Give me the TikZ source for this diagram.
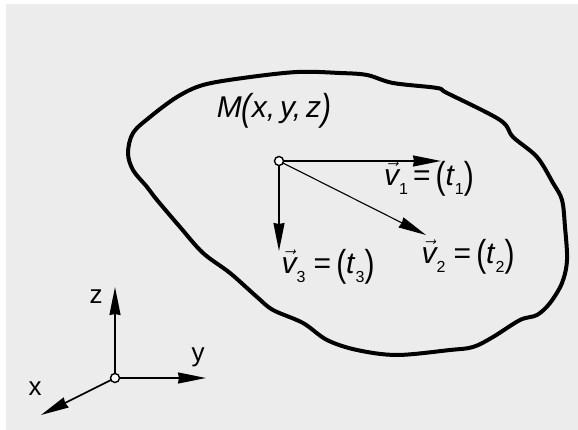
\documentclass[tikz,border=0pt]{standalone}
\usepackage{fontspec}
\setmainfont{Liberation Sans}
\usepackage{graphicx}
\usetikzlibrary{arrows.meta}
\definecolor{bg}{HTML}{ECECEC}
\newcommand\bigp[1]{\raisebox{-0.12em}{\scalebox{1}[1.25]{#1}}}
\newcommand\vv{\ensuremath{\vec{\mbox{\itshape v}}}}
\newcommand\sbs[1]{\raisebox{-0.3em}{\fontsize{16}{16}\selectfont #1}}
\begin{document}
\begin{tikzpicture}[x=1pt,y=-1pt,
  lab/.style={font=\fontsize{30}{30}\selectfont, inner sep=0pt},
  axlab/.style={font=\fontsize{26}{26}\selectfont, inner sep=0pt},
  vec/.style={line width=1.6pt, -{Stealth[length=28pt,width=11pt,inset=1pt]}},
  pt/.style={circle, draw=black, fill=white, line width=1.4pt, minimum size=9pt, inner sep=0pt},
  blob/.style={line width=4pt, line join=round}]
\useasboundingbox (0,0) rectangle (578,430);
\fill[bg] (6,4) rectangle (578,430);
% body outline
\draw[blob] plot[smooth cycle, tension=0.55] coordinates {
 (297,72) (340,73) (367,75) (393,83) (437,88) (447,93) (500,120) (513,137)
 (537,157) (553,183) (562,200) (565,227) (567,260) (562,283) (550,303)
 (537,315) (520,320) (493,337) (473,347) (450,350) (397,355) (357,350)
 (327,340) (303,323) (273,310) (257,297) (230,273) (203,253) (180,227)
 (157,200) (147,187) (133,170) (128,153) (133,133) (150,117) (177,97)
 (203,85) (243,78)};
% point M and vectors
\coordinate (t1) at (441,161);
\coordinate (t2) at (426,235);
\coordinate (t3) at (279,251);
\draw[vec] (279,161) -- (t1);
\draw[vec, line width=1.1pt] (279,161) -- (t2);
\draw[vec] (279,161) -- (t3);
\node[pt] (M) at (279,161) {};
\node[lab] (lM) at (274,111) {\itshape M\bigp{(}x,\,y,\,z\bigp{)}};
\node[lab] (l1) at (429,179) {\vv\sbs{1}\,=\,\bigp{(}\textit{t}\sbs{1}\bigp{)}};
\node[lab] (l2) at (468,257) {\vv\sbs{2}\;=\,\bigp{(}\textit{t}\sbs{2}\bigp{)}};
\node[lab] (l3) at (328,267) {\vv\sbs{3}\;=\,\bigp{(}\textit{t}\sbs{3}\bigp{)}};
% axes
\coordinate (az) at (115,287);
\coordinate (ay) at (206,378);
\coordinate (ax) at (41,415);
\draw[vec] (115,378) -- (az);
\draw[vec] (115,378) -- (ay);
\draw[vec] (115,378) -- (ax);
\node[pt] (O) at (115,378) {};
\node[axlab] (lz) at (96,297) {z};
\node[axlab] (ly) at (198,357) {y};
\node[axlab] (lx) at (35,389) {x};
\end{tikzpicture}
\end{document}
